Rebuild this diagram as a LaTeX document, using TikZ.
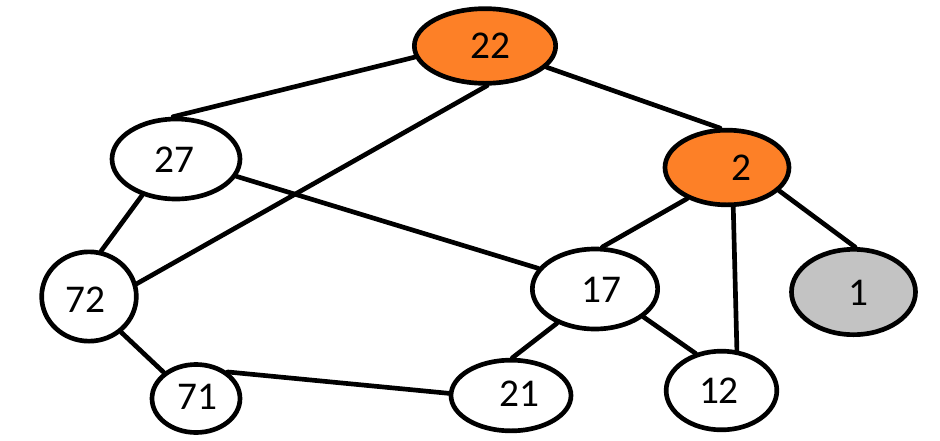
\documentclass[tikz,border=0pt]{standalone}
\usepackage{fontspec}
\setmainfont{Carlito}
\usetikzlibrary{shapes.geometric}
\definecolor{orng}{RGB}{253,128,39}
\definecolor{gry}{RGB}{195,195,195}
\begin{document}
\begin{tikzpicture}[x=0.75pt,y=-0.75pt,
  vtx/.style={ellipse,draw=black,line width=3.5pt,inner sep=0pt,fill=white},
  hot/.style={vtx,fill=orng},
  cold/.style={vtx,fill=gry},
  lbl/.style={font=\fontsize{29.5}{30}\selectfont,inner sep=0pt,text depth=0pt},
  edge/.style={line width=3.5pt,line cap=round}]
\useasboundingbox (0,0) rectangle (940,440);
\fill[white] (0,0) rectangle (940,440);
\node[hot,minimum width=106pt,minimum height=56pt,label={[lbl,xshift=3.8pt]center:22}] (n22) at (485,46) {};
\node[vtx,minimum width=96pt,minimum height=60pt,label={[lbl,xshift=-0.8pt,yshift=-0.8pt]center:27}] (n27) at (176,159) {};
\node[hot,minimum width=93pt,minimum height=56pt,label={[lbl,xshift=10.5pt]center:2}] (n2) at (727,167.5) {};
\node[vtx,minimum width=94pt,minimum height=60pt,label={[lbl,xshift=4.5pt,yshift=-0.8pt]center:17}] (n17) at (595,289) {};
\node[cold,minimum width=93pt,minimum height=64pt,label={[lbl,xshift=3.4pt,yshift=-0.8pt]center:1}] (n1) at (853.5,292) {};
\node[vtx,minimum width=71pt,minimum height=67pt,label={[lbl,xshift=-2.3pt,yshift=-2.6pt]center:72}] (n72) at (89,296.5) {};
\node[vtx,minimum width=66pt,minimum height=51pt,label={[lbl,xshift=0.8pt,yshift=1.1pt]center:71}] (n71) at (196,398.5) {};
\node[vtx,minimum width=90pt,minimum height=53pt,label={[lbl,xshift=6pt,yshift=1.1pt]center:21}] (n21) at (511,395.5) {};
\node[vtx,minimum width=83pt,minimum height=59pt,label={[lbl,xshift=-1.9pt,yshift=-0.4pt]center:12}] (n12) at (721.5,390.5) {};
\draw[edge] (n22.189) -- (n27.94);
\draw[edge] (n22.273) -- (n72.15);
\draw[edge] (n22.341) -- (n2.100);
\draw[edge] (n27.227) -- (n72.75);
\draw[edge] (n27.344) -- (n17.160);
\draw[edge] (n2.218) -- (n17.80.5);
\draw[edge] (n2.279) -- (n12.69);
\draw[edge] (n2.336) -- (n1.88);
\draw[edge] (n17.222) -- (n21.88);
\draw[edge] (n17.330) -- (n12.125);
\draw[edge] (n72.312) -- (n71.141);
\draw[edge] (n71.40.5) -- (n21.178);
\end{tikzpicture}
\end{document}
